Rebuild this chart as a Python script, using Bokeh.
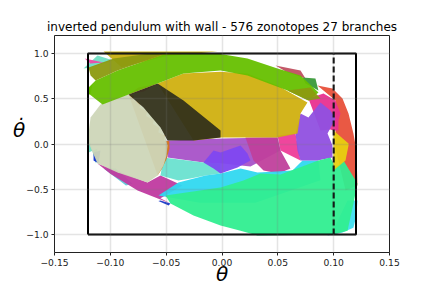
from bokeh.plotting import figure
from bokeh.embed import file_html
from bokeh.resources import INLINE
from bokeh.models import FixedTicker, Range1d

title_text = "inverted pendulum with wall - 576 zonotopes 27 branches"
x_label = "\u03b8"
y_label = "\u03b8\u0307\n"
x_ticks = [-0.15, -0.10, -0.05, 0.0, 0.05, 0.10, 0.15]
x_tick_labels = ["\u22120.15", "\u22120.10", "\u22120.05", "0.00", "0.05", "0.10", "0.15"]
y_ticks = [-1.0, -0.5, 0.0, 0.5, 1.0]
y_tick_labels = ["\u22121.0", "\u22120.5", "0.0", "0.5", "1.0"]

box_x = [-0.12, 0.12, 0.12, -0.12, -0.12]
box_y = [-1.0, -1.0, 1.0, 1.0, -1.0]
wall_x = [0.1, 0.1]
wall_y = [-1.0, 1.0]

red_x = [.0855, .099, .1079, .1133, .1177, .1204, .1213, .1106, .1016, .1016, .1016]
red_y = [.647, .614, .503, .337, .116, -.072, -.459, -.514, -.05, .26, .48]
pink_right_x = [.0774, .0909, .1016, .1061, .1043, .1043, .0998, .0971, .0882]
pink_right_y = [.503, .559, .481, .337, .26, .15, .149, .16, .15]
pink_center_x = [.0497, .0658, .0703, .0524]
pink_center_y = [.094, .116, -.183, -.072]
pink_top_x = [-.123, -.106, -.118]
pink_top_y = [.946, .902, .89]
pink_left_x = [-.0837, -.0748, -.0577, -.07]
pink_left_y = [.548, .625, .669, .58]
rim_x = [.0479, .0703, .0748, .0586]
rim_y = [.868, .813, .725, .79]
teal_top_x = [-.124, -.1115, -.0971, -.1177]
teal_top_y = [.835, .979, .924, .846]
teal_left_x = [-.1204, -.1195, -.1132, -.1115, -.1204]
teal_left_y = [.30, .10, -.216, -.05, -.10]
purple_x = [-.0488, .0004, .0434, .0497, .0524, .0255, .0004, -.0166, -.0488]
purple_y = [.039, .06, .072, .072, -.072, -.25, -.216, -.205, -.149]
teal_mid_x = [-.0524, -.0166, -.0013, -.0013, -.0148, -.0282, -.039, -.0551]
teal_mid_y = [-.149, -.205, -.216, -.326, -.348, -.382, -.404, -.348]
magenta_low_x = [-.1115, -.0667, -.0551, -.0354, -.0506, -.0551, -.0461, -.0756, -.1]
magenta_low_y = [-.216, -.426, -.348, -.459, -.57, -.6, -.658, -.515, -.33]
magenta_blob_x = [.021, .0497, .0524, .0613, .0506, .0372, .0282]
magenta_blob_y = [.072, .072, -.072, -.271, -.326, -.293, -.183]
teal_low_x = [-.106, -.095, -.08, -.086]
teal_low_y = [-.27, -.272, -.44, -.46]
blue_left_x = [-.115, -.1088, -.1106, -.115]
blue_left_y = [-.094, -.072, -.216, -.183]
blue_low_x = [-.0551, -.0461, -.0478, -.057]
blue_low_y = [-.625, -.658, -.68, -.63]
cyan_x = [-.0569, -.039, -.0148, -.0013, .0166, .0318, .0524, .0631, .0721, .0864, .0882, .03, -.02]
cyan_y = [-.57, -.426, -.348, -.326, -.271, -.315, -.30, -.293, -.183, -.183, -.40, -.65, -.65]
cyan_right_x = [.1124, .1213, .1204, .1177, .1079, .0945, .1016]
cyan_right_y = [-.625, -.625, -.79, -.925, -.98, -1.012, -.9]
violet_right_x = [.0703, .0774, .0882, .0971, .1016, .0945, .0989, .0989, .0855, .0703, .0676, .0658]
violet_right_y = [.337, .293, .459, .371, .282, .116, -.017, -.149, -.183, -.183, -.072, .116]
violet_mid_x = [-.0166, -.0076, -.0013, .0166, .0228, .0255, .0139, -.0013, -.0076]
violet_mid_y = [-.205, -.072, -.094, -.017, -.105, -.183, -.26, -.326, -.271]
green_main_x = [-.0506, -.0013, .0192, .0345, .0524, .0864, .0971, .1016, .1088, .1213, .1177, .1124, .0998, .0318, .0166, -.0013, -.0255, -.0461]
green_main_y = [-.57, -.481, -.404, -.326, -.337, -.183, -.15, -.26, -.183, -.437, -.66, -.96, -1.0, -1.012, -.96, -.90, -.791, -.658]
gold_top_x = [-.106, -.004, -.05, -.09]
gold_top_y = [1.023, 1.023, .97, .85]
gold_main_x = [-.0577, -.0345, -.0013, .0228, .0497, .0765, .0703, .0676, .0497, -.0013, -.0255]
gold_main_y = [.669, .78, .80, .78, .647, .459, .337, .116, .072, .072, .039]
yellow_x = [.0998, .1133, .1133, .1106, .0998]
yellow_y = [.149, .006, -.017, -.183, -.293]
orange_x = [-.0837, -.0790, -.0795, -.0730, -.0738, -.0670, -.0680, -.0610, -.0618, -.0560, -.0570, -.0510, -.0520, -.0472, -.0470, -.0495, -.0540, -.0577]
orange_y = [.548, .535, .49, .445, .40, .36, .31, .265, .22, .18, .13, .09, .04, .03, -.05, -.16, -.28, -.348]
beige_x = [-.1204, -.1177, -.1088, -.0984, -.0837, -.0703, -.0613, -.0551, -.0506, -.0488, -.0497, -.0524, -.0577, -.0667, -.0936, -.1115, -.1177]
beige_y = [.039, .293, .437, .50, .548, .404, .293, .183, .072, -.017, -.127, -.238, -.348, -.426, -.315, -.216, -.039]
dark_x = [-.0837, -.0577, -.0345, -.0013, -.0013, -.0255, -.0488, -.0551, -.0703]
dark_y = [.548, .669, .481, .149, .072, .039, .039, .183, .404]
green_band_x = [-.1132, -.0936, -.0524, -.004, .0228, .0497, .0703, .0864, .0774, .0586, .0228, -.0013, -.0345, -.0577, -.0837, -.107, -.1195, -.1195]
green_band_y = [.702, .813, .99, 1.001, .946, .835, .758, .57, .481, .592, .758, .813, .78, .669, .548, .437, .559, .625]
olive_left_x = [-.1195, -.0971, -.064, -.0524, -.0936, -.1132, -.1177]
olive_left_y = [.846, .946, 1.0, .99, .813, .702, .758]
olive_right_x = [.0586, .0792, .0882, .0774]
olive_right_y = [.592, .625, .503, .481]
dark_green_x = [.0721, .0837, .0864, .0748]
dark_green_y = [.736, .725, .592, .669]
lime_left_x = [-.1204, -.1159, -.1177, -.1195]
lime_left_y = [.60, .66, .56, .54]

series = [
    (teal_top_x, teal_top_y, "#70dfc4"), (pink_top_x, pink_top_y, "#ee4aa8"),
    (red_x, red_y, "#e8503a"), (pink_right_x, pink_right_y, "#e83090"),
    (rim_x, rim_y, "#c05060"),
    (pink_center_x, pink_center_y, "#ee3c98"), (pink_left_x, pink_left_y, "#ee4aa8"),
    (teal_left_x, teal_left_y, "#70dfc4"), (purple_x, purple_y, "#a852c8"),
    (teal_low_x, teal_low_y, "#60c8d8"), (magenta_low_x, magenta_low_y, "#c03aa0"),
    (teal_mid_x, teal_mid_y, "#6ae2d0"), (magenta_blob_x, magenta_blob_y, "#c0409c"),
    (blue_left_x, blue_left_y, "#1030d0"), (cyan_x, cyan_y, "#30d8f0"),
    (cyan_right_x, cyan_right_y, "#40def0"), (blue_low_x, blue_low_y, "#1838c8"),
    (violet_right_x, violet_right_y, "#9050e0"), (violet_mid_x, violet_mid_y, "#8048f0"),
    (green_main_x, green_main_y, "#30ee90"), (yellow_x, yellow_y, "#e8d010"),
    (gold_top_x, gold_top_y, "#c8b010"), (gold_main_x, gold_main_y, "#d0b010"),
    (orange_x, orange_y, "#d87818"), (beige_x, beige_y, "#cdd6b8"), (dark_x, dark_y, "#33311a"),
    (dark_green_x, dark_green_y, "#3a9a3a"), (green_band_x, green_band_y, "#66c000"),
    (olive_left_x, olive_left_y, "#8c9a10"), (olive_right_x, olive_right_y, "#8c9a10"),
    (lime_left_x, lime_left_y, "#66c000"),
]

p = figure(width=432, height=288, output_backend="svg", toolbar_location=None,
           x_range=Range1d(-0.15, 0.15), y_range=Range1d(-1.2, 1.2),
           min_border_left=54, min_border_right=43, min_border_top=35, min_border_bottom=36)

for xs, ys, color in series:
    p.patch(xs, ys, fill_color=color, fill_alpha=0.95, line_color=None)

p.title.text = title_text
p.title.text_font = "DejaVu Sans"
p.title.text_font_size = "12px"
p.title.text_font_style = "normal"
p.title.text_color = "#000000"
p.title.align = "center"
p.title.standoff = 3

for ax, ticks, labels in ((p.xaxis, x_ticks, x_tick_labels), (p.yaxis, y_ticks, y_tick_labels)):
    ax.ticker = FixedTicker(ticks=ticks)
    ax.major_label_overrides = dict(zip(ticks, labels))
    ax.major_label_text_font = "DejaVu Sans"
    ax.major_label_text_font_size = "9.2px"
    ax.major_label_text_color = "#222222"
    ax.major_tick_in = 0
    ax.major_tick_out = 3
    ax.minor_tick_line_color = None
    ax.axis_line_color = None
    ax.major_tick_line_color = "#222222"
    ax.major_label_standoff = 3
    ax.axis_label_text_font = "DejaVu Sans"
    ax.axis_label_text_font_style = "italic"
    ax.axis_label_text_font_size = "20px"
    ax.axis_label_text_color = "#000000"

p.xaxis.axis_label = x_label
p.xaxis.axis_label_standoff = -7
p.yaxis.axis_label = y_label
p.yaxis.axis_label_orientation = "horizontal"
p.yaxis.axis_label_standoff = -2
p.yaxis.axis_label_text_baseline = "middle"

p.grid.level = "overlay"
p.grid.grid_line_color = "#777777"
p.grid.grid_line_alpha = 0.4
p.grid.grid_line_width = 1.5
p.grid.grid_line_dash = "1 1"
p.outline_line_color = "#222222"
p.outline_line_width = 1
p.outline_line_alpha = 1
p.background_fill_color = "#ffffff"

p.line(box_x, box_y, line_color="black", line_width=2)
p.line(wall_x, wall_y, line_color="black", line_width=2, line_dash="6 3")

open("out.html", "w").write(file_html(p, INLINE))
